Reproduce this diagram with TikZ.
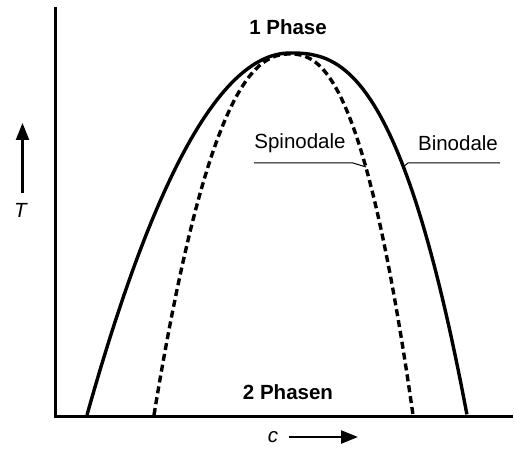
\documentclass[tikz,border=0pt]{standalone}
\usepackage{fontspec}
\setmainfont{Liberation Sans}
\usetikzlibrary{arrows.meta}
\begin{document}
\begin{tikzpicture}[x=1pt,y=-1pt,
  axis/.style={line width=3pt},
  curve/.style={line width=3.4pt,line join=round},
  leader/.style={line width=1pt},
  lbl/.style={font=\fontsize{20.5}{24}\selectfont},
  arr/.style={line width=2.4pt,-{Triangle[length=17pt,width=13pt]}}]
  \useasboundingbox (0,0) rectangle (514,449);
  \coordinate (O) at (55,416);
  \coordinate (Ytop) at (55,7);
  \coordinate (Xend) at (513,416);
  \draw[axis] (Ytop) -- (O) -- (Xend);
  \draw[curve] plot[domain=-1:0,samples=60,variable=\u] ({290+203*\u},{415-362*(1-\u*\u)})
    -- plot[domain=0.001:1,samples=60,variable=\u] ({290+177*\u},{415-362*(1-\u^2.6)});
  \draw[curve,dash pattern=on 7pt off 4pt] plot[domain=-1:-0.001,samples=60,variable=\u] ({290+136*\u},{415-361*(1-abs(\u)^2.3)})
    -- plot[domain=0.001:1,samples=60,variable=\u] ({290+123*\u},{415-361*(1-\u^2.4)});
  \node[lbl,font=\fontsize{20.5}{24}\selectfont\bfseries] (one) at (288,27) {1 Phase};
  \node[lbl,font=\fontsize{20.5}{24}\selectfont\bfseries] (two) at (288,392) {2 Phasen};
  \node[lbl] (spin) at (300,143) {Spinodale};
  \node[lbl] (bin) at (458,143) {Binodale};
  \coordinate (spinA) at (254,163);
  \coordinate (spinB) at (353,163);
  \coordinate (spinpt) at (366,167);
  \coordinate (binpt) at (403,167);
  \coordinate (binB) at (408,163);
  \coordinate (binA) at (500,163);
  \draw[leader] (spinA) -- (spinB) -- (spinpt);
  \draw[leader] (binpt) -- (binB) -- (binA);
  \node[lbl] (tlab) at (21,210) {\textit{T}};
  \coordinate (Tlow) at (22.5,193);
  \coordinate (Thigh) at (22.5,123);
  \draw[arr] (Tlow) -- (Thigh);
  \node[lbl] (clab) at (273,437) {\textit{c}};
  \coordinate (cleft) at (289,437);
  \coordinate (cright) at (358,437);
  \draw[arr] (cleft) -- (cright);
\end{tikzpicture}
\end{document}
